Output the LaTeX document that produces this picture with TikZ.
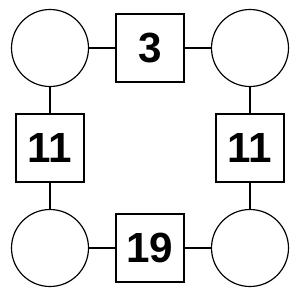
\documentclass[tikz,border=0pt]{standalone}
\usepackage{fontspec}
\setmainfont{Liberation Sans}
\usepackage{tikz}

\begin{document}
\begin{tikzpicture}[node distance=3cm, line width=1pt,
  ring/.style={draw, circle, inner sep=0pt, minimum size=2.31cm},
  numbox/.style={draw, rectangle, inner sep=0pt, minimum size=2.04cm, font=\fontsize{36}{40}\selectfont\bfseries}]
\useasboundingbox (-1.5,1.44) rectangle (7.5,-7.56);
\node (tl) [ring] {};
\node (top) [numbox, right of=tl] {3};
\node (tr) [ring, right of=top] {};
\node (left) [numbox, below of=tl] {11};
\node (right) [numbox, below of=tr] {11};
\node (bl) [ring, below of=left] {};
\node (bottom) [numbox, right of=bl] {19};
\node (br) [ring, right of=bottom] {};

\draw (tl) -- (top);
\draw (top) -- (tr);
\draw (tl) -- (left);
\draw (tr) -- (right);
\draw (left) -- (bl);
\draw (right) -- (br);
\draw (bl) -- (bottom);
\draw (bottom) -- (br);
\end{tikzpicture}
\end{document}
